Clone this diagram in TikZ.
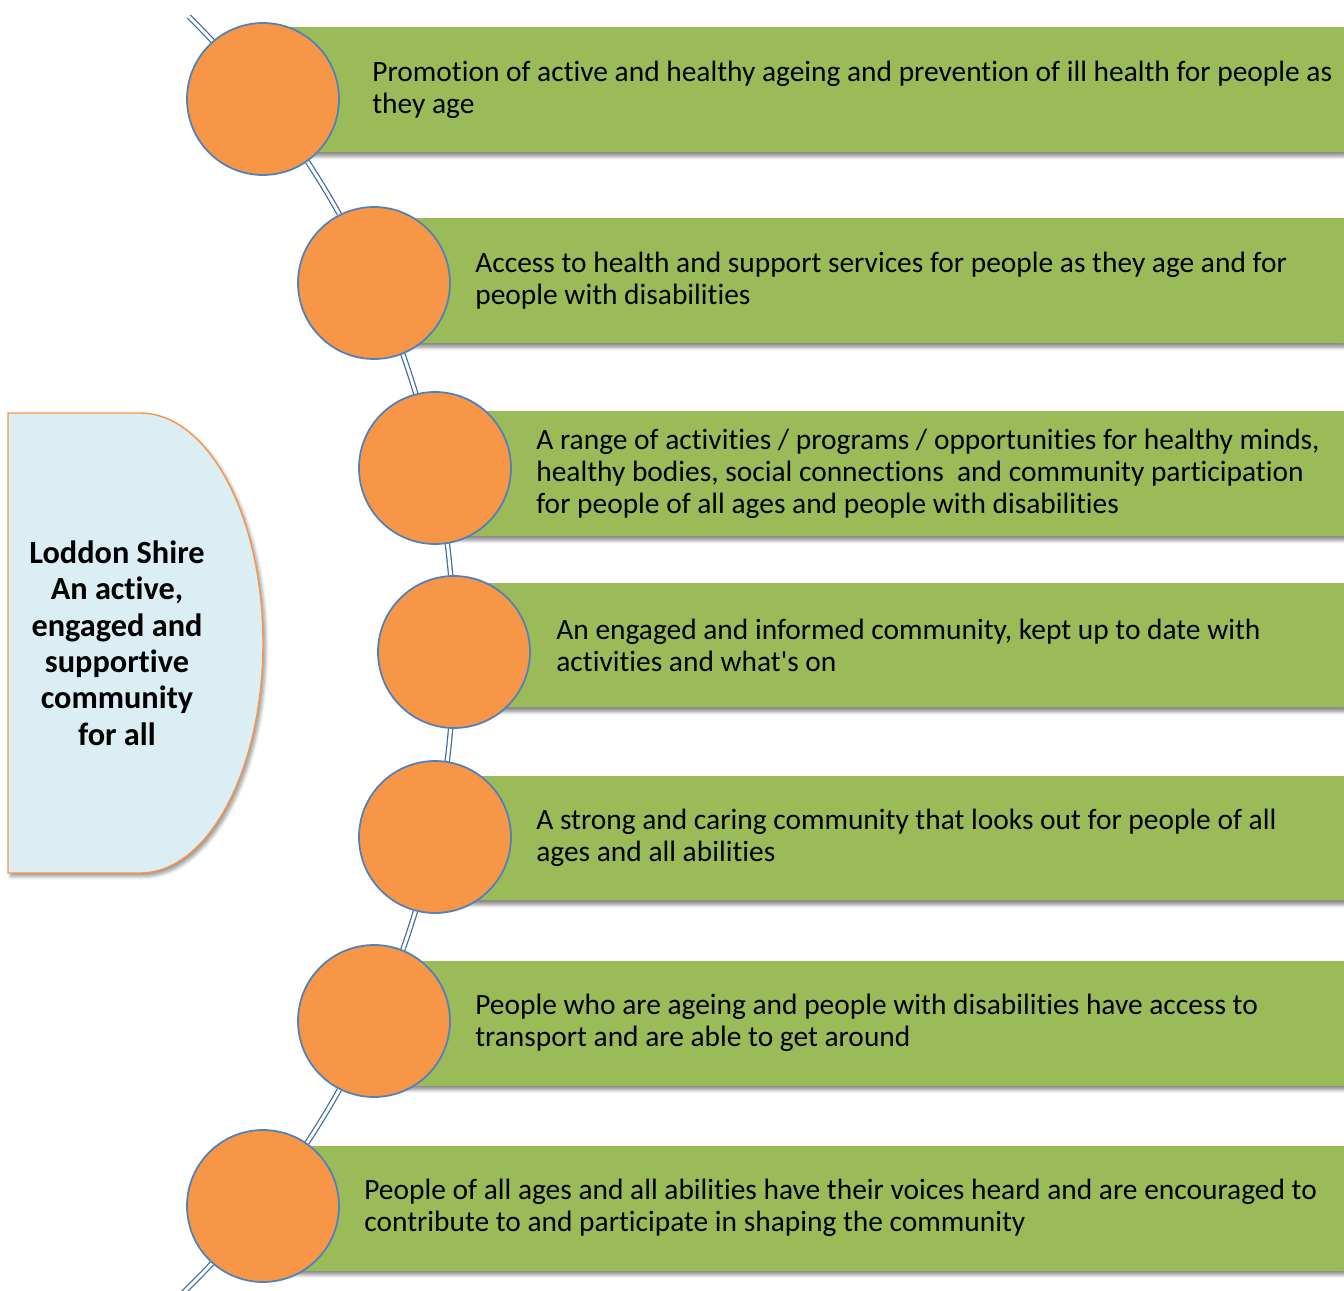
\documentclass[tikz,border=0pt]{standalone}
\usepackage{fontspec}
\setmainfont{Carlito}[Ligatures={NoCommon}]
\usepackage{tikz}
\usetikzlibrary{shadows.blur}

\definecolor{barGreen}{HTML}{9BBB59}
\definecolor{dotOrange}{HTML}{F79646}
\definecolor{rimBlue}{HTML}{4F81BD}
\definecolor{arcBlue}{HTML}{3D6BA6}
\definecolor{paleBlue}{HTML}{DAEEF3}

\tikzset{
  goalbar/.style={fill=barGreen, draw=none, anchor=west, minimum height=2.5cm,
    blur shadow={shadow xshift=1pt, shadow yshift=-2.5pt, shadow blur steps=6, shadow opacity=45}},
  goaltext/.style={anchor=west, align=left, inner sep=0pt, font=\fontsize{16.75}{18.2}\selectfont},
  dot/.style={circle, fill=dotOrange, draw=rimBlue, line width=1pt, minimum size=3.04cm, inner sep=0pt},
  spine/.style={draw=arcBlue, line width=0.7pt, double=white, double distance=1.7pt}
}

\begin{document}
\begin{tikzpicture}[x=0.02cm, y=-0.02cm]
  \useasboundingbox (0,0) rectangle (1344,1290);

  % vision shape on the left
  \path[fill=paleBlue, draw=dotOrange, line width=0.8pt,
    blur shadow={shadow xshift=1.5pt, shadow yshift=-2pt, shadow blur steps=6, shadow opacity=40}]
    (8,413) -- (140,413) .. controls (208,413) and (263,516) .. (263,643)
    .. controls (263,770) and (208,873) .. (140,873) -- (8,873) -- cycle;
  \node[align=center, font=\fontsize{18.4}{20.7}\selectfont\bfseries] (vision) at (117,643)
    {Loddon Shire\\An active,\\engaged and\\supportive\\community\\for all};

  % green bars
  \foreach \n/\cx/\cy in {1/263/89.5, 2/374/280.5, 3/435/473.5, 4/454/645, 5/435/838, 6/374/1023, 7/263/1208}
    \node[goalbar, minimum width={(1344-\cx)*0.02cm}] (bar\n) at (\cx,\cy) {};

  % the spine
  \coordinate (hub) at (-440,652);
  \draw[spine] (hub) ++(-45.3:894) arc[start angle=45.3, end angle=-46, radius=17.88cm];

  % circles on the spine
  \foreach \n/\cx/\cy in {1/263/99, 2/374/283, 3/435/468, 4/454/652, 5/435/837, 6/374/1021, 7/263/1206}
    \node[dot] (dot\n) at (\cx,\cy) {};

  % texts
  \node[goaltext] (goal1) at (372,89.5) {Promotion of active and healthy ageing and prevention of ill health for people as\\they age};
  \node[goaltext] (goal2) at (475,280.5) {Access to health and support services for people as they age and for\\people with disabilities};
  \node[goaltext] (goal3) at (536,473.5) {A range of activities / programs / opportunities for healthy minds,\\healthy bodies, social connections \ and community participation\\for people of all ages and people with disabilities};
  \node[goaltext] (goal4) at (556,645) {An engaged and informed community, kept up to date with\\activities and what\textquotesingle s on};
  \node[goaltext] (goal5) at (536,838) {A strong and caring community that looks out for people of all\\ages and all abilities};
  \node[goaltext] (goal6) at (475,1023) {People who are ageing and people with disabilities have access to\\transport and are able to get around};
  \node[goaltext] (goal7) at (364,1208) {People of all ages and all abilities have their voices heard and are encouraged to\\contribute to and participate in shaping the community};
\end{tikzpicture}
\end{document}
